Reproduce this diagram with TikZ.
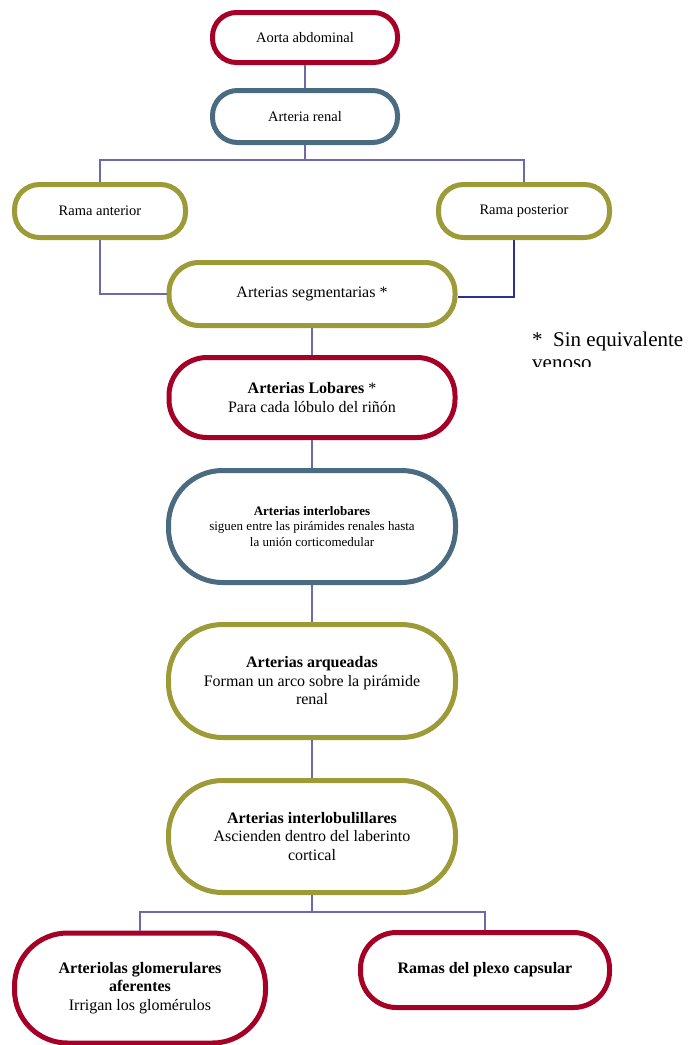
\documentclass[tikz,border=0pt]{standalone}
\usepackage{fontspec}
\setmainfont{Liberation Serif}
\usetikzlibrary{positioning,calc}
\definecolor{Wine}{HTML}{A50026}
\definecolor{Slate}{HTML}{4B6C80}
\definecolor{Olive}{HTML}{9C9B38}
\definecolor{Wire}{HTML}{6A6AAC}
\definecolor{WireDark}{HTML}{2E3192}
\newcommand{\fmid}{\fontsize{14.5}{17}\selectfont}
\newcommand{\fbig}{\fontsize{16}{18.5}\selectfont}
\newcommand{\fsmall}{\fontsize{13}{15.5}\selectfont}
\tikzset{
  pillbox/.style={draw,line width=5pt,fill=white,align=center,text=black,inner sep=2pt},
  winebox/.style={pillbox,draw=Wine},
  slatebox/.style={pillbox,draw=Slate},
  olivebox/.style={pillbox,draw=Olive},
  wire/.style={draw=Wire,line width=1.4pt},
  notetext/.style={align=left,inner sep=0pt,font=\fontsize{21}{23.5}\selectfont}
}

\begin{document}
\begin{tikzpicture}[x=1pt,y=-1pt]
  \useasboundingbox (0,0) rectangle (688,1045);
  % upper part
  \node[winebox,minimum width=185pt,minimum height=50pt,rounded corners=24pt,font=\fmid] (aorta) at (305,37.5) {Aorta abdominal};
  \node[slatebox,minimum width=185pt,minimum height=52pt,rounded corners=25pt,font=\fmid] (renal) at (305,116.5) {Arteria renal};
  \node[olivebox,minimum width=171pt,minimum height=53pt,rounded corners=25pt,font=\fmid] (ranterior) at (100,211) {Rama anterior};
  \node[olivebox,minimum width=171pt,minimum height=53pt,rounded corners=25pt,font=\fmid] (rposterior) at (524,211) {Rama posterior};
  \node[olivebox,minimum width=286pt,minimum height=63pt,rounded corners=30pt,font=\fbig] (segment) at (312,294) {Arterias segmentarias *};
  % main column
  \node[winebox,minimum width=286pt,minimum height=80pt,rounded corners=38pt,font=\fbig] (lobares) at (312,397.5) {\textbf{Arterias Lobares} *\\Para cada lóbulo del riñón};
  \node[slatebox,minimum width=287pt,minimum height=112pt,rounded corners=54pt,font=\fsmall] (interlob) at (312,526.5) {\textbf{Arterias interlobares}\\siguen entre las pirámides renales hasta\\la unión corticomedular};
  \node[olivebox,minimum width=287pt,minimum height=113pt,rounded corners=54pt,font=\fbig] (arque) at (312,681) {\textbf{Arterias arqueadas}\\Forman un arco sobre la pirámide\\renal};
  \node[olivebox,minimum width=287pt,minimum height=112pt,rounded corners=54pt,font=\fbig] (interlobul) at (312,836.5) {\textbf{Arterias interlobulillares}\\Ascienden dentro del laberinto\\cortical};
  % lower part
  \node[winebox,minimum width=251pt,minimum height=110pt,rounded corners=53pt,font=\fbig] (arteriolas) at (140,988) {\textbf{Arteriolas glomerulares}\\\textbf{aferentes}\\Irrigan los glomérulos};
  \node[winebox,minimum width=249pt,minimum height=75pt,rounded corners=36pt,font=\fbig] (plexo) at (485,970) {\textbf{Ramas del plexo capsular}};

  \draw[wire] (aorta) -- (renal);
  \draw[wire] (renal.south) -- ++(0,15) coordinate (split) -| (ranterior.north);
  \draw[wire] (split) -| (rposterior.north);
  \draw[wire] (ranterior.south) |- (segment.west);
  \draw[wire,draw=WireDark] ([xshift=-10pt]rposterior.south) |- ([yshift=-3pt]segment.east);
  \draw[wire] (segment) -- (lobares);
  \draw[wire] (lobares) -- (interlob);
  \draw[wire] (interlob) -- (arque);
  \draw[wire] (arque) -- (interlobul);
  \draw[wire] (interlobul.south) -- ++(0,17) coordinate (fork) -| (arteriolas.north);
  \draw[wire] (fork) -| (plexo.north);

  % footnote, cut off below
  \begin{scope}
    \clip (500,320) rectangle (688,366);
    \node[notetext,anchor=north west] (nota) at (532,331.7) {*\ \ Sin equivalente\\venoso};
  \end{scope}
\end{tikzpicture}
\end{document}
